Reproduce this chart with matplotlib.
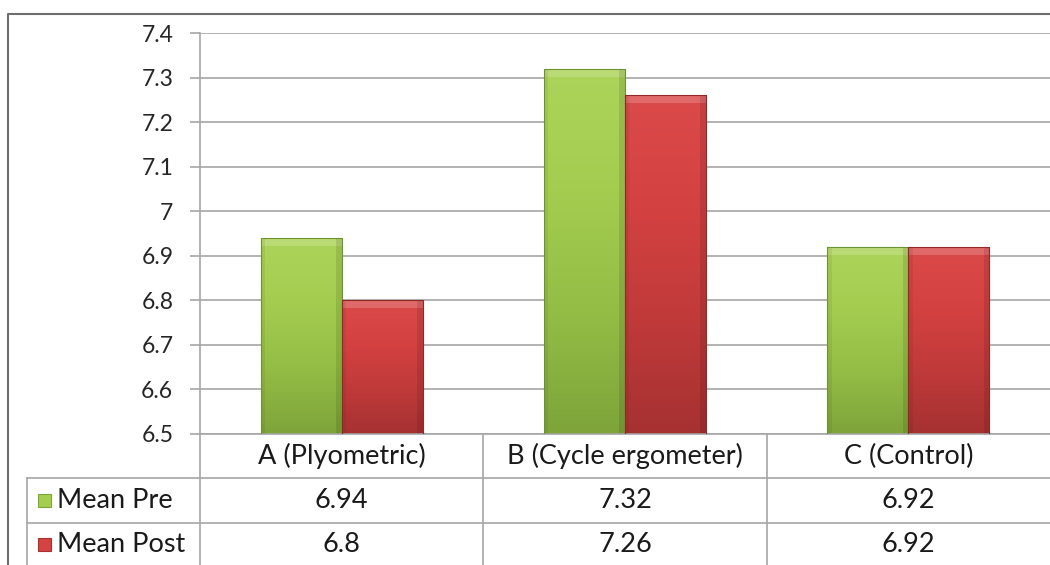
import matplotlib.pyplot as plt
import numpy as np
from matplotlib.colors import LinearSegmentedColormap
from matplotlib.patches import Rectangle

categories = ["A (Plyometric)", "B (Cycle ergometer)", "C (Control)"]
series_names = ["Mean Pre", "Mean Post"]
mean_pre = [6.94, 7.32, 6.92]
mean_post = [6.8, 7.26, 6.92]
pre_labels = ["6.94", "7.32", "6.92"]
post_labels = ["6.8", "7.26", "6.92"]
yticks = [6.5, 6.6, 6.7, 6.8, 6.9, 7.0, 7.1, 7.2, 7.3, 7.4]
ytick_labels = ["6.5", "6.6", "6.7", "6.8", "6.9", "7", "7.1", "7.2", "7.3", "7.4"]

plt.rcParams['font.family'] = ['Lato', 'DejaVu Sans']
W, H = 1050, 565
fig = plt.figure(figsize=(W / 100, H / 100), dpi=100)

# chart area in pixel coordinates
left, right, top, bottom = 200, 1050, 33, 434
ax = fig.add_axes([left / W, 1 - bottom / H, (right - left) / W, (bottom - top) / H])

green_cmap = LinearSegmentedColormap.from_list("g", ["#7ea43a", "#93bd45", "#a4cd50", "#acd45a"])
red_cmap = LinearSegmentedColormap.from_list("r", ["#a63131", "#c03a3a", "#d44141", "#db4a4a"])

x = np.arange(len(categories))
bw = 0.286
grad = np.linspace(0, 1, 256).reshape(-1, 1)
for vals, offset, cmap, edge in [(mean_pre, -bw / 2, green_cmap, "#6e9230"),
                                 (mean_post, bw / 2, red_cmap, "#922828")]:
    bars = ax.bar(x + offset, np.array(vals) - 6.5, bw, bottom=6.5,
                  color="none", edgecolor=edge, linewidth=0.8, zorder=3)
    for b in bars:
        x0, y0 = b.get_x(), b.get_y()
        w, h = b.get_width(), b.get_height()
        im = ax.imshow(grad, extent=[x0, x0 + w, y0, y0 + h], origin="lower",
                       cmap=cmap, aspect="auto", zorder=2)
        im.set_clip_path(Rectangle((x0, y0), w, h, transform=ax.transData))
        # bevel: light top band, darker side bands
        ax.add_patch(Rectangle((x0, y0 + h - 0.018), w, 0.018,
                               color="white", alpha=0.18, lw=0, zorder=2.5))
        ax.add_patch(Rectangle((x0 + w - 0.02, y0), 0.02, h,
                               color="black", alpha=0.10, lw=0, zorder=2.5))
        ax.add_patch(Rectangle((x0, y0), 0.015, h,
                               color="black", alpha=0.06, lw=0, zorder=2.5))

ax.set_xlim(-0.5, 2.5)
ax.set_ylim(6.5, 7.4)
ax.set_yticks(yticks)
ax.set_yticklabels(ytick_labels, fontsize=16.5, color="#262626")
ax.set_xticks([])
ax.yaxis.grid(True, color="#a6a6a6", linewidth=1.2, zorder=0)
ax.set_axisbelow(True)
ax.tick_params(axis="y", length=7.2, width=1.2, color="#a6a6a6", pad=12)
for s in ["top", "right"]:
    ax.spines[s].set_visible(False)
for s in ["left", "bottom"]:
    ax.spines[s].set_color("#a6a6a6")
    ax.spines[s].set_linewidth(1.2)

# data table and frame drawn on overlay in pixel coordinates
ov = fig.add_axes([0, 0, 1, 1], zorder=5)
ov.set_xlim(0, W)
ov.set_ylim(H, 0)
ov.axis("off")
ov.patch.set_alpha(0)

lc = "#a6a6a6"
col_x = [27, 200] + [left + (right - left) * (i + 1) / 3 for i in range(3)]
for cx in col_x[1:-1]:
    ov.plot([cx, cx], [434, H], color=lc, lw=1.2)
ov.plot([27, 27], [478, H], color=lc, lw=1.2)
ov.plot([27, W], [478, 478], color=lc, lw=1.2)
ov.plot([27, W], [523, 523], color=lc, lw=1.2)
# outer frame
ov.plot([8, 8, W], [H, 14, 14], color="#6e6e6e", lw=1.5)

fs = 19.5
tc = "#1a1a1a"
for i, cat in enumerate(categories):
    cx = (col_x[i + 1] + col_x[i + 2]) / 2
    ov.text(cx, 456, cat, ha="center", va="center", fontsize=fs, color=tc)
    ov.text(cx, 500.5, pre_labels[i], ha="center", va="center", fontsize=fs, color=tc)
    ov.text(cx, 544, post_labels[i], ha="center", va="center", fontsize=fs, color=tc)

for ry, name, cmap in [(500.5, series_names[0], green_cmap), (544, series_names[1], red_cmap)]:
    ov.add_patch(Rectangle((38, ry - 6.5), 13, 13, facecolor=cmap(0.7),
                           edgecolor=cmap(0.0), lw=0.8))
    ov.text(57, ry, name, ha="left", va="center", fontsize=fs, color=tc)

fig.savefig("out.png", dpi=100)
